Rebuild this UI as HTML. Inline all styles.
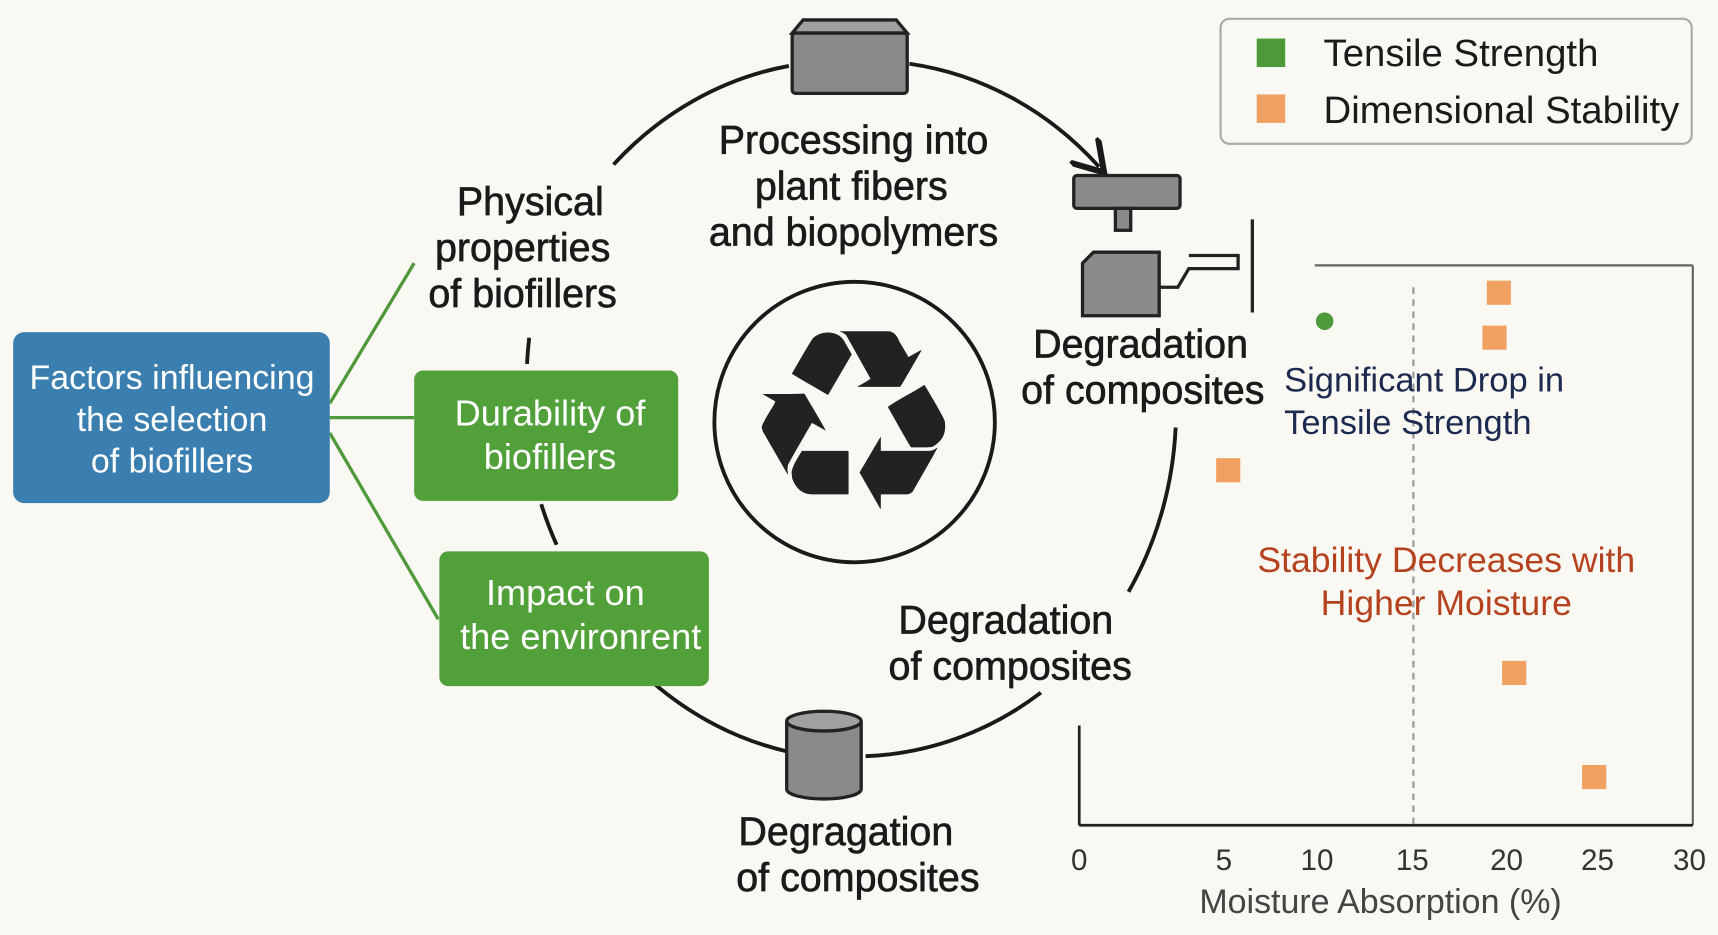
<!DOCTYPE html>
<html><head><meta charset="utf-8"><style>
html,body{margin:0;padding:0;background:#faf8f2;}
svg{display:block;}
text{font-family:"Liberation Sans","DejaVu Sans",sans-serif;}
</style></head><body>
<svg width="1718" height="935" viewBox="0 0 1568 853" xmlns="http://www.w3.org/2000/svg">
<defs>
<marker id="ah" markerWidth="10" markerHeight="10" refX="6" refY="5" orient="auto" markerUnits="strokeWidth">
<path d="M0,0 L8,5 L0,10" fill="none" stroke="#1a1a1a" stroke-width="1.6"/>
</marker>
</defs>
<rect width="1568" height="853" fill="#faf8f2"/>

<g fill="none" stroke="#1a1a1a" stroke-width="3.5">
<path d="M560,150 A295 318 0 0 1 720,60"/>
<path d="M830,58 A295 318 0 0 1 1003,152" marker-end="url(#ah)"/>
<path d="M1073,390 A295 318 0 0 1 1030,540"/>
<path d="M950,632 A295 318 0 0 1 790,690"/>
<path d="M720,686 A295 318 0 0 1 595,622"/>
<path d="M494,460 A295 318 0 0 0 508,497"/>
<path d="M483,308 A295 318 0 0 0 481,332"/>
</g>

<g stroke="#4e9a3a" stroke-width="3">
<line x1="301" y1="368" x2="378" y2="240"/>
<line x1="301" y1="381" x2="378" y2="381"/>
<line x1="301" y1="395" x2="400" y2="565"/>
</g>

<rect x="12" y="303" width="289" height="156" rx="10" fill="#3a7fb0"/>
<g fill="#fff" font-size="31" text-anchor="middle">
<text x="157" y="355">Factors influencing</text>
<text x="157" y="393">the selection</text>
<text x="157" y="431">of biofillers</text>
</g>
<rect x="378" y="338" width="241" height="119" rx="8" fill="#52a03a"/>
<g fill="#fff" font-size="33" text-anchor="middle">
<text x="502" y="388">Durability of</text>
<text x="502" y="428">biofillers</text>
</g>
<rect x="401" y="503" width="246" height="123" rx="8" fill="#52a03a"/>
<g fill="#fff" font-size="33" text-anchor="middle">
<text x="516" y="552">Impact on</text>
<text x="530" y="592">the environrent</text>
</g>

<circle cx="780" cy="385" r="128" fill="none" stroke="#1a1a1a" stroke-width="3.5"/>
<text x="779" y="464" font-size="230" text-anchor="middle" fill="#222" font-family="DejaVu Sans,sans-serif">♻</text>

<g stroke="#222" stroke-width="3" fill="#8a8a8a">
<path d="M723,30 L733,18 L818,18 L828,30 Z" fill="#a0a0a0"/>
<rect x="723" y="30" width="105" height="55" rx="3"/>
</g>
<g stroke="#222" stroke-width="3" fill="#8a8a8a">
<rect x="980" y="160" width="97" height="30" rx="3"/>
<rect x="1018" y="190" width="14" height="20"/>
<path d="M988,240 L998,230 L1058,230 L1058,288 L988,288 Z"/>
<path d="M1058,262 L1075,262 L1085,245 L1130,245 L1130,233 L1085,233" fill="none"/>
</g>
<line x1="1143" y1="200" x2="1143" y2="285" stroke="#222" stroke-width="3"/>
<g stroke="#222" stroke-width="3" fill="#8a8a8a">
<path d="M718,658 L718,720 A34 9 0 0 0 786,720 L786,658"/>
<ellipse cx="752" cy="658" rx="34" ry="9" fill="#a0a0a0"/>
</g>

<g fill="#1a1a1a" font-size="36" text-anchor="middle" stroke="#1a1a1a" stroke-width="0.6">
<text x="484" y="196">Physical</text>
<text x="477" y="238">properties</text>
<text x="477" y="280">of biofillers</text>
<text x="779" y="140">Processing into</text>
<text x="777" y="182">plant fibers</text>
<text x="779" y="224">and biopolymers</text>
<text x="1041" y="326">Degradation</text>
<text x="1043" y="368">of composites</text>
<text x="918" y="578">Degradation</text>
<text x="922" y="620">of composites</text>
<text x="772" y="771">Degragation</text>
<text x="783" y="813">of composites</text>
</g>

<rect x="1114" y="17" width="430" height="114" rx="8" fill="#faf8f2" stroke="#aaa" stroke-width="2"/>
<rect x="1147" y="35" width="26" height="26" fill="#4e9a3a"/>
<rect x="1147" y="86" width="26" height="26" fill="#f0a060"/>
<g fill="#1a1a1a" font-size="35">
<text x="1208" y="60">Tensile Strength</text>
<text x="1208" y="112">Dimensional Stability</text>
</g>

<g stroke="#666" stroke-width="2" fill="none">
<line x1="1200" y1="242" x2="1545" y2="242"/>
<line x1="1545" y1="242" x2="1545" y2="753"/>
</g>
<g stroke="#222" stroke-width="2.5">
<line x1="985" y1="662" x2="985" y2="753"/>
<line x1="985" y1="753" x2="1545" y2="753"/>
</g>
<line x1="1290" y1="262" x2="1290" y2="753" stroke="#999" stroke-width="2" stroke-dasharray="6,5"/>
<g fill="#333" font-size="27" text-anchor="middle">
<text x="985" y="794">0</text>
<text x="1117" y="794">5</text>
<text x="1202" y="794">10</text>
<text x="1289" y="794">15</text>
<text x="1375" y="794">20</text>
<text x="1458" y="794">25</text>
<text x="1542" y="794">30</text>
<text x="1260" y="833" font-size="31" fill="#444">Moisture Absorption (%)</text>
</g>
<circle cx="1209" cy="293" r="8" fill="#4e9a3a"/>
<g fill="#f0a060">
<rect x="1357" y="256" width="22" height="22"/>
<rect x="1353" y="297" width="22" height="22"/>
<rect x="1110" y="418" width="22" height="22"/>
<rect x="1371" y="603" width="22" height="22"/>
<rect x="1444" y="698" width="22" height="22"/>
</g>
<g fill="#1c2a50" font-size="31.5">
<text x="1172" y="357">Significant Drop in</text>
<text x="1172" y="396">Tensile Strength</text>
</g>
<g fill="#b5421e" font-size="32.5" text-anchor="middle">
<text x="1320" y="522">Stability Decreases with</text>
<text x="1320" y="561">Higher Moisture</text>
</g>
</svg>
</body></html>
